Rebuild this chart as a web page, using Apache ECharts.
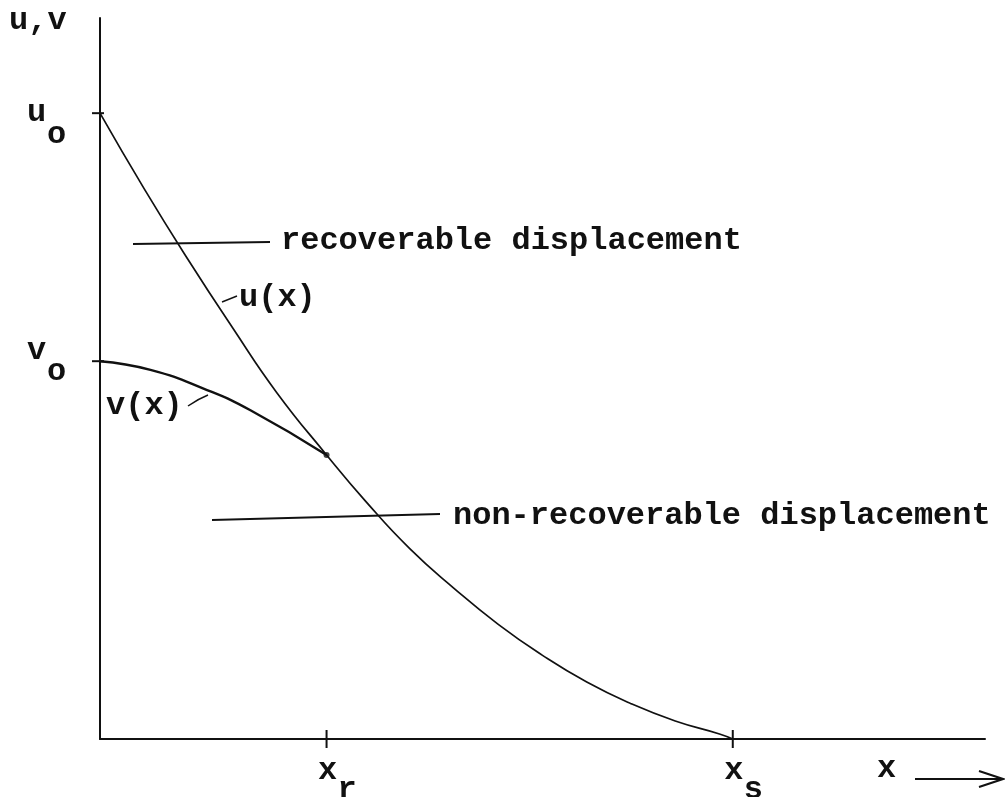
<!DOCTYPE html>
<html>
<head>
<meta charset="utf-8">
<title>u(x), v(x) displacement</title>
<script src="https://cdn.jsdelivr.net/npm/echarts@6/dist/echarts.min.js"></script>
<style>
  html, body { margin: 0; padding: 0; background: #fff; }
  #chart { width: 1005px; height: 797px; }
</style>
</head>
<body>
<div id="chart"></div>
<script>
// Total displacement u(x): falls from u_o at x = 0 to zero at x_s
const uX = [0, 5, 10, 15, 20, 25.6, 30, 35, 40, 45, 50, 55, 60, 65, 70, 71.5];
const uY = [86.8, 76.3, 66.4, 57.0, 48.0, 39.4, 33.0, 26.4, 20.9, 15.9, 11.6, 7.9, 4.9, 2.5, 0.7, 0];

// Recoverable part v(x): from v_o at x = 0 until it meets u(x) at x_r
const vX = [0, 5.7, 12.1, 17.0, 25.6];
const vY = [52.4, 51.2, 48.4, 45.6, 39.4];

// Marked positions on the axes
const xTickValues = [25.6, 71.5];
const xTickMain = ['x', 'x'];
const xTickSub = ['r', 's'];
const yTickValues = [86.8, 52.4];
const yTickMain = ['u', 'v'];
const yTickSub = ['o', 'o'];

// Meeting point of u and v
const meetPoint = [25.6, 39.4];

const INK = '#111';
const FONT = 'bold 32px "Liberation Mono", "DejaVu Sans Mono", monospace';
// label offsets (px) of main letter and subscript, relative to tick
const yLabelDy = [[0, 22], [-10, 11]];

const chart = echarts.init(document.getElementById('chart'), null, { renderer: 'canvas' });

const zip = (xs, ys) => xs.map((x, i) => [x, ys[i]]);

const axisCommon = {
  type: 'value',
  min: 0,
  max: 100,
  axisLine: { show: true, lineStyle: { color: INK, width: 2 } },
  axisTick: { show: false },
  axisLabel: { show: false },
  splitLine: { show: false }
};

function txt(text, x, y, align) {
  return {
    type: 'text',
    style: { text: text, x: x, y: y, fill: INK, font: FONT, align: align || 'left', verticalAlign: 'middle' }
  };
}

const option = {
  backgroundColor: '#fff',
  animation: false,
  grid: { left: 100, right: 20, top: 18, bottom: 58 },
  xAxis: Object.assign({}, axisCommon),
  yAxis: Object.assign({}, axisCommon),
  series: [
    {
      name: 'u(x)',
      type: 'line',
      data: zip(uX, uY),
      smooth: 0.5,
      showSymbol: false,
      lineStyle: { color: INK, width: 1.7 },
      z: 3
    },
    {
      name: 'v(x)',
      type: 'line',
      data: zip(vX, vY),
      smooth: 0.5,
      showSymbol: false,
      lineStyle: { color: INK, width: 2.4 },
      z: 3
    },
    {
      name: 'meet',
      type: 'scatter',
      data: [meetPoint],
      symbolSize: 6,
      itemStyle: { color: INK },
      z: 4
    },
    {
      // x-axis ticks with subscripted labels
      type: 'custom',
      data: xTickValues.map((v, i) => [v, 0, i]),
      renderItem: function (params, api) {
        const p = api.coord([api.value(0), 0]);
        const i = api.value(2);
        return {
          type: 'group',
          children: [
            { type: 'line', shape: { x1: p[0], y1: p[1] - 9, x2: p[0], y2: p[1] + 9 }, style: { stroke: INK, lineWidth: 2 } },
            txt(xTickMain[i], p[0] + 1, p[1] + 32, 'center'),
            txt(xTickSub[i], p[0] + 11, p[1] + 51, 'left')
          ]
        };
      },
      z: 5
    },
    {
      // y-axis ticks with subscripted labels
      type: 'custom',
      data: yTickValues.map((v, i) => [0, v, i]),
      renderItem: function (params, api) {
        const p = api.coord([0, api.value(1)]);
        const i = api.value(2);
        const d = yLabelDy[i];
        return {
          type: 'group',
          children: [
            { type: 'line', shape: { x1: p[0] - 8, y1: p[1], x2: p[0] + 4, y2: p[1] }, style: { stroke: INK, lineWidth: 2 } },
            txt(yTickMain[i], p[0] - 73, p[1] + d[0], 'left'),
            txt(yTickSub[i], p[0] - 53, p[1] + d[1], 'left')
          ]
        };
      },
      z: 5
    }
  ],
  graphic: [
    txt('u,v', 9, 21, 'left'),
    txt('x', 877, 769, 'left'),
    txt('recoverable displacement', 281, 241, 'left'),
    txt('u(x)', 239, 298, 'left'),
    txt('v(x)', 106, 406, 'left'),
    txt('non-recoverable displacement', 453, 516, 'left'),
    { type: 'line', shape: { x1: 133, y1: 244, x2: 270, y2: 242 }, style: { stroke: INK, lineWidth: 1.8 } },
    { type: 'line', shape: { x1: 212, y1: 520, x2: 440, y2: 514 }, style: { stroke: INK, lineWidth: 1.8 } },
    { type: 'line', shape: { x1: 222, y1: 302, x2: 237, y2: 296 }, style: { stroke: INK, lineWidth: 1.5 } },
    { type: 'bezierCurve', shape: { x1: 188, y1: 406, cpx1: 198, cpy1: 399, x2: 208, y2: 395 }, style: { stroke: INK, lineWidth: 1.5, fill: null } },
    { type: 'line', shape: { x1: 915, y1: 779, x2: 1000, y2: 779 }, style: { stroke: INK, lineWidth: 2.2 } },
    { type: 'polyline', shape: { points: [[979, 771], [1003, 779], [979, 787]] }, style: { stroke: INK, lineWidth: 2, fill: null } }
  ]
};

chart.setOption(option);
</script>
</body>
</html>
